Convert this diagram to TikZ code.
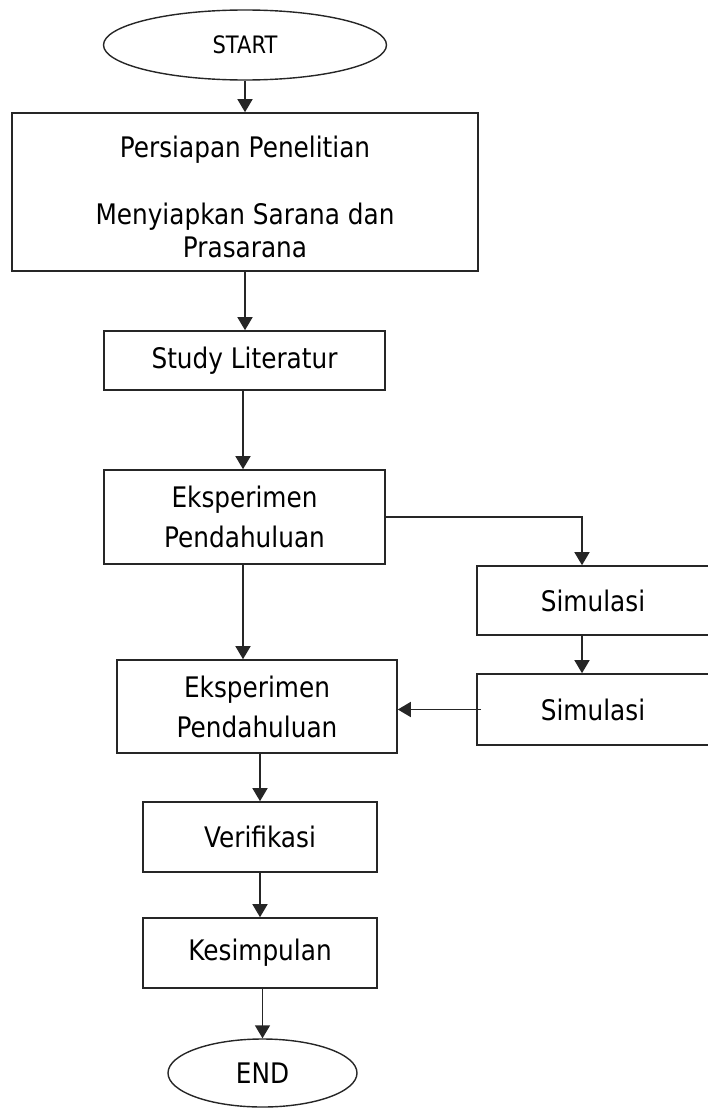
\documentclass[tikz,border=0pt]{standalone}
\usepackage{fontspec}
\setmainfont{DejaVu Sans}[FakeStretch=0.875]
\usetikzlibrary{shapes.geometric,arrows.meta}

\tikzset{
  box/.style={rectangle, draw=black!85, line width=0.8pt, inner sep=1pt, align=center,
    font=\fontsize{14.15}{16.5}\selectfont},
  term/.style={ellipse, draw=black!85, line width=0.7pt, inner sep=0pt, align=center},
  flow/.style={-{Triangle[width=7.5pt,length=6.5pt]}, line width=0.75pt, draw=black!85}
}

\begin{document}
\begin{tikzpicture}[x=0.5pt, y=-0.5pt]
\useasboundingbox (0,0) rectangle (707,1108);

% Start
\node (start) [term, minimum width=141.5pt, minimum height=35pt, font=\fontsize{12}{14}\selectfont] at (245,45) {START};

% Persiapan
\node (prep) [box, minimum width=233pt, minimum height=79pt] at (245,192) {\rule{0pt}{15.8pt}Persiapan Penelitian\\[17pt]Menyiapkan Sarana dan\\Prasarana};

% Literatur
\node (study) [box, minimum width=140.5pt, minimum height=29.5pt] at (244.5,360.5) {Study Literatur};

% Eksperimen 1
\node (eksp1) [box, minimum width=140.5pt, minimum height=47pt] at (244.5,517) {Eksperimen\\[3.5pt]Pendahuluan};

% Simulasi
\node (sim1) [box, minimum width=116pt, minimum height=34.5pt] at (593,600.5) {Simulasi};
\node (sim2) [box, minimum width=116pt, minimum height=35.5pt] at (593,709.5) {Simulasi};

% Eksperimen 2
\node (eksp2) [box, minimum width=140pt, minimum height=46.5pt] at (257,706.5) {Eksperimen\\[3.5pt]Pendahuluan};

% Verifikasi
\node (verif) [box, minimum width=117pt, minimum height=35pt] at (260,837) {Verifikasi};

% Kesimpulan
\node (kesim) [box, minimum width=117pt, minimum height=35pt] at (260,953) {Kesimpulan};

% End
\node (end) [term, minimum width=94.5pt, minimum height=34pt, font=\fontsize{14.15}{16.5}\selectfont] at (262.5,1073) {END};

% Arrows
\draw[flow] (start) -- (prep);
\draw[flow] (prep) -- (prep.south |- study.north);
\draw[flow] ([xshift=-0.75pt]study.south) -- ([xshift=-0.75pt]study.south |- eksp1.north);
\draw[flow] ([xshift=-0.75pt]eksp1.south) -- ([xshift=-0.75pt]eksp1.south |- eksp2.north);
\draw[flow] (eksp1.east) -| ([xshift=-5.5pt]sim1.north);
\draw[flow] ([xshift=-5.5pt]sim1.south) -- ([xshift=-5.5pt]sim2.north);
\draw[flow] ([xshift=2.5pt]sim2.west) -- (eksp2.east |- sim2.west);
\draw[flow] (verif.north |- eksp2.south) -- (verif.north);
\draw[flow] (verif) -- (kesim);
\draw[flow] (end.north |- kesim.south) -- (end.north);
\end{tikzpicture}
\end{document}
